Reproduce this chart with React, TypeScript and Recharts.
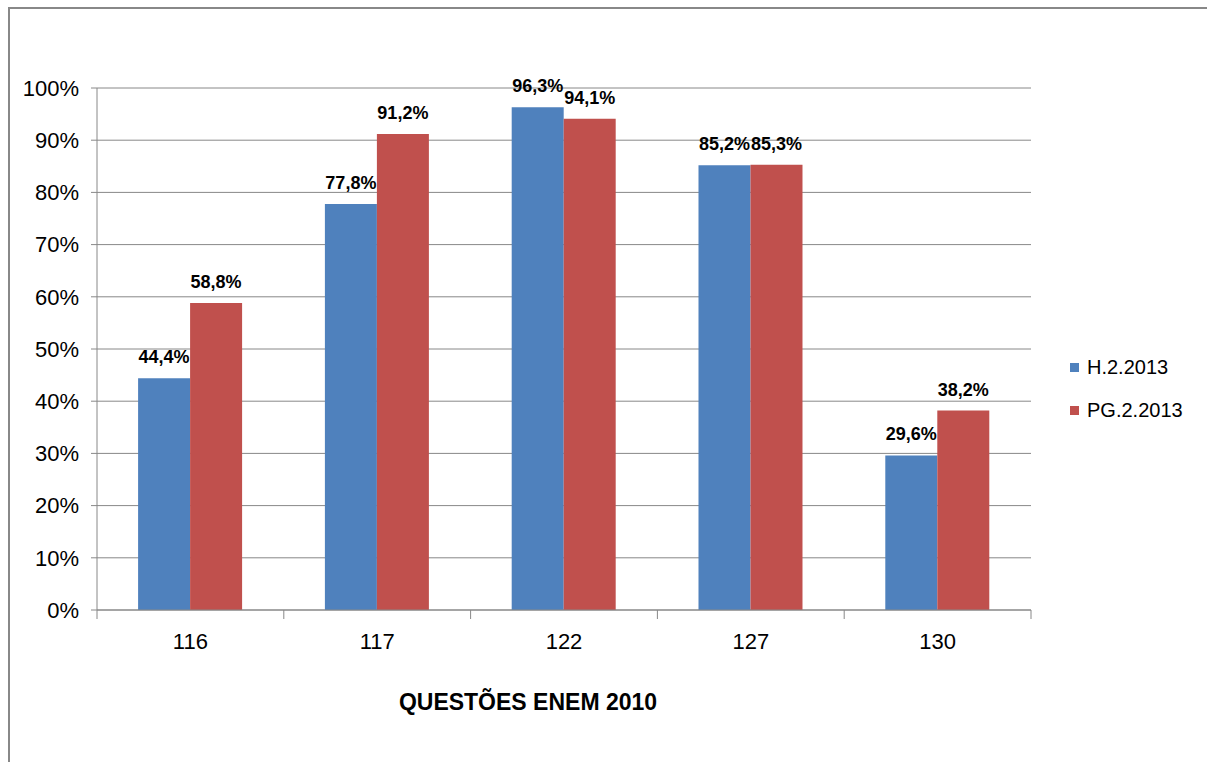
import React from 'react';
import { BarChart, Bar, XAxis, YAxis, CartesianGrid, Legend, LabelList } from 'recharts';

const categories = ['116', '117', '122', '127', '130'];
const h2013 = [44.4, 77.8, 96.3, 85.2, 29.6];
const pg2013 = [58.8, 91.2, 94.1, 85.3, 38.2];
const yTicks = [0, 10, 20, 30, 40, 50, 60, 70, 80, 90, 100];
const seriesNames = ['H.2.2013', 'PG.2.2013'];
const seriesColors = ['#4F81BD', '#C0504D'];
const axisTitle = 'QUESTÕES ENEM 2010';

const data = categories.map((c, i) => ({ name: c, h: h2013[i], pg: pg2013[i] }));

const FONT = '"Liberation Sans", Arial, sans-serif';
const GRID = '#888888';

const pct = (v: number) => `${v.toFixed(1).replace('.', ',')}%`;

const BarLabel = (props: any) => {
  const { x, y, width, value } = props;
  return (
    <text x={x + width / 2} y={y - 15} textAnchor="middle" fontFamily={FONT} fontWeight="bold" fontSize={18} fill="#000">
      {pct(value)}
    </text>
  );
};

const XTick = (props: any) => {
  const { x, y, payload, index } = props;
  const half = payload && payload.offset ? payload.offset : 93.4;
  return (
    <g>
      <line x1={x - half} x2={x - half} y1={y} y2={y + 9} stroke={GRID} />
      {index === categories.length - 1 && <line x1={x + half} x2={x + half} y1={y} y2={y + 9} stroke={GRID} />}
      <text x={x} y={y + 39} textAnchor="middle" fontFamily={FONT} fontSize={22} fill="#000">
        {payload.value}
      </text>
    </g>
  );
};

const LegendContent = () => (
  <div style={{ fontFamily: FONT, fontSize: 20, color: '#000' }}>
    {seriesNames.map((n, i) => (
      <div key={n} style={{ height: 43, display: 'flex', alignItems: 'center' }}>
        <span style={{ display: 'inline-block', width: 9, height: 9, background: seriesColors[i], marginRight: 8 }} />
        {n}
      </div>
    ))}
  </div>
);

export default function App() {
  return (
    <div style={{ position: 'fixed', left: 0, top: 0, width: 1207, height: 762, background: '#fff', overflow: 'hidden' }}>
      <div
        style={{
          position: 'absolute',
          left: 8,
          top: 7,
          width: 1199,
          height: 755,
          boxSizing: 'border-box',
          borderLeft: '2px solid #888',
          borderTop: '2px solid #888',
        }}
      />
      <div style={{ position: 'absolute', left: 0, top: 0 }}>
        <BarChart
          width={1207}
          height={762}
          data={data}
          margin={{ top: 88, right: 176, bottom: 112, left: 17 }}
          barCategoryGap="22%"
          barGap={0}
        >
          <CartesianGrid vertical={false} stroke={GRID} />
          <XAxis
            dataKey="name"
            height={40}
            stroke={GRID}
            tickLine={false}
            tickSize={0}
            tickMargin={0}
            tick={<XTick />}
            interval={0}
            label={(p: any) => {
              const vb = p.viewBox || {};
              return (
                <text
                  x={vb.x + vb.width / 2 - 36}
                  y={vb.y + 100}
                  textAnchor="middle"
                  fontFamily={FONT}
                  fontWeight="bold"
                  fontSize={23}
                  fill="#000"
                >
                  {axisTitle}
                </text>
              );
            }}
          />
          <YAxis
            width={80}
            domain={[0, 100]}
            ticks={yTicks}
            interval={0}
            stroke={GRID}
            tickSize={6}
            tickMargin={12}
            tickFormatter={(v: number) => `${v}%`}
            tick={{ fontFamily: FONT, fontSize: 22, fill: '#000' }}
          />
          <Legend
            layout="vertical"
            align="center"
            verticalAlign="middle"
            content={<LegendContent />}
            wrapperStyle={{ left: 1070, top: 346, width: 130 }}
          />
          <Bar dataKey="h" name={seriesNames[0]} fill={seriesColors[0]} isAnimationActive={false}>
            <LabelList dataKey="h" content={<BarLabel />} />
          </Bar>
          <Bar dataKey="pg" name={seriesNames[1]} fill={seriesColors[1]} isAnimationActive={false}>
            <LabelList dataKey="pg" content={<BarLabel />} />
          </Bar>
        </BarChart>
      </div>
    </div>
  );
}
